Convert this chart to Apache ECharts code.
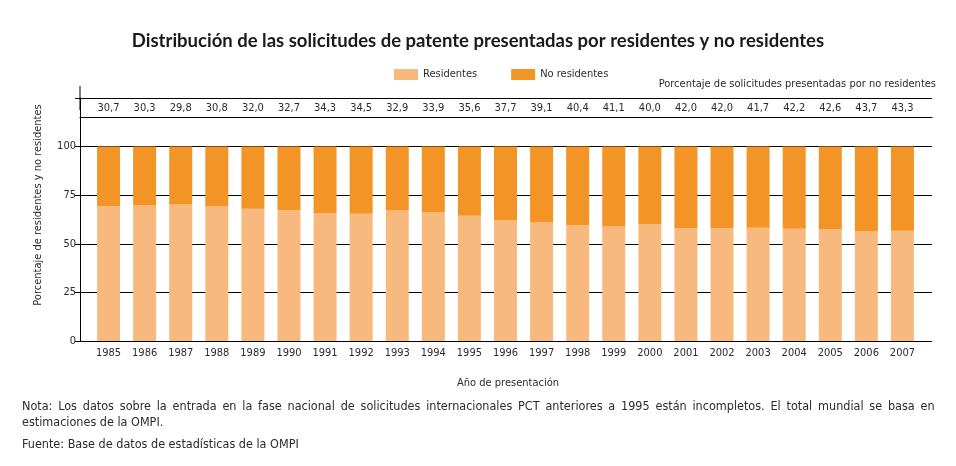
<!DOCTYPE html>
<html>
<head>
<meta charset="utf-8">
<script src="https://cdn.jsdelivr.net/npm/echarts@6/dist/echarts.min.js"></script>
<style>html,body{margin:0;padding:0;background:#fff}#c{width:956px;height:466px}</style>
</head>
<body>
<div id="c"></div>
<script>
const years = ['1985','1986','1987','1988','1989','1990','1991','1992','1993','1994','1995','1996','1997','1998','1999','2000','2001','2002','2003','2004','2005','2006','2007'];
const residentes = [69.3,69.7,70.2,69.2,68.0,67.3,65.7,65.5,67.1,66.1,64.4,62.3,60.9,59.6,58.9,60.0,58.0,58.0,58.3,57.8,57.4,56.3,56.7];
const noResidentes = [30.7,30.3,29.8,30.8,32.0,32.7,34.3,34.5,32.9,33.9,35.6,37.7,39.1,40.4,41.1,40.0,42.0,42.0,41.7,42.2,42.6,43.7,43.3];
const yTicks = [0,25,50,75,100];
const noResLabels = noResidentes.map(v => v.toFixed(1).replace('.', ','));

const FONT = "'DejaVu Sans Condensed',sans-serif";
const TXT = '#2b2b2b';
const FS = 11;

const notaText = 'Nota: Los datos sobre la entrada en la fase nacional de solicitudes internacionales PCT anteriores a 1995 están incompletos. El total mundial se basa en'.split(' ').join(' \u2009') + '\nestimaciones de la OMPI.';

const chart = echarts.init(document.getElementById('c'), null, {renderer: 'canvas'});
chart.setOption({
  animation: false,
  textStyle: {fontFamily: FONT},
  title: {
    text: 'Distribución de las solicitudes de patente presentadas por residentes y no residentes',
    left: 'center', top: 27,
    textStyle: {fontFamily: "Lato, 'Liberation Sans', sans-serif", fontSize: 18.5, fontWeight: 'bold', color: '#1a1a1a'}
  },
  legend: {
    left: 389, top: 64,
    itemWidth: 24, itemHeight: 11, itemGap: 34,
    icon: 'rect',
    textStyle: {fontFamily: FONT, fontSize: FS, color: TXT},
    data: ['Residentes', 'No residentes']
  },
  grid: [
    {left: 90.5, right: 35.5, top: 98, bottom: 125},
    {left: 80, right: 24, top: 98, bottom: 125}
  ],
  xAxis: [
    {
      type: 'category', gridIndex: 0, data: years, position: 'bottom',
      axisLine: {show: false}, axisTick: {show: false},
      axisLabel: {interval: 0, fontFamily: FONT, fontSize: FS, color: TXT, margin: 7}
    },
    {
      type: 'category', gridIndex: 0, data: noResLabels, position: 'top',
      axisLine: {show: false, onZero: false}, axisTick: {show: false},
      axisLabel: {interval: 0, inside: true, fontFamily: FONT, fontSize: FS, color: TXT, margin: 5}
    },
    {
      type: 'value', gridIndex: 1, min: 0, max: 1, position: 'top', offset: -19.4,
      axisLine: {show: true, onZero: false, lineStyle: {color: '#000', width: 1}},
      axisTick: {show: false}, axisLabel: {show: false}, splitLine: {show: false}
    }
  ],
  yAxis: [
    {
      type: 'value', gridIndex: 0, min: 0, max: 125, interval: 25,
      show: false, splitLine: {show: false}
    },
    {
      type: 'value', gridIndex: 1, min: 0, max: 125, interval: 25,
      axisLine: {show: true, onZero: false, lineStyle: {color: '#000', width: 1}, symbol: ['none', 'rect'], symbolSize: [1, 24]},
      axisTick: {show: true, length: 5, lineStyle: {color: '#000'}},
      axisLabel: {fontFamily: FONT, fontSize: FS, color: TXT, margin: 4,
        formatter: v => (yTicks.indexOf(v) >= 0 ? String(v) : '')},
      splitLine: {show: true, lineStyle: {color: '#000', width: 1}}
    }
  ],
  series: [
    {
      name: 'Residentes', type: 'bar', stack: 'total', xAxisIndex: 0, yAxisIndex: 0,
      barWidth: 23, itemStyle: {color: '#F8B97F'}, data: residentes, z: 5
    },
    {
      name: 'No residentes', type: 'bar', stack: 'total', xAxisIndex: 0, yAxisIndex: 0,
      barWidth: 23, itemStyle: {color: '#F29426'}, data: noResidentes, z: 5
    }
  ],
  graphic: [
    {type: 'text', right: 20, top: 79, style: {text: 'Porcentaje de solicitudes presentadas por no residentes', font: FS + 'px ' + FONT, fill: TXT}},
    {type: 'text', x: 38, y: 205, rotation: Math.PI / 2, style: {text: 'Porcentaje de residentes y no residentes', font: FS + 'px ' + FONT, fill: TXT, align: 'center', verticalAlign: 'middle'}},
    {type: 'text', x: 508, y: 383, style: {text: 'Año de presentación', font: FS + 'px ' + FONT, fill: TXT, align: 'center', verticalAlign: 'middle'}},
    {type: 'text', x: 22, y: 399, style: {text: notaText, font: '12.5px ' + FONT, fill: TXT, lineHeight: 16}},
    {type: 'text', x: 22, y: 438, style: {text: 'Fuente: Base de datos de estadísticas de la OMPI', font: '12.5px ' + FONT, fill: TXT}}
  ]
});
</script>
</body>
</html>
